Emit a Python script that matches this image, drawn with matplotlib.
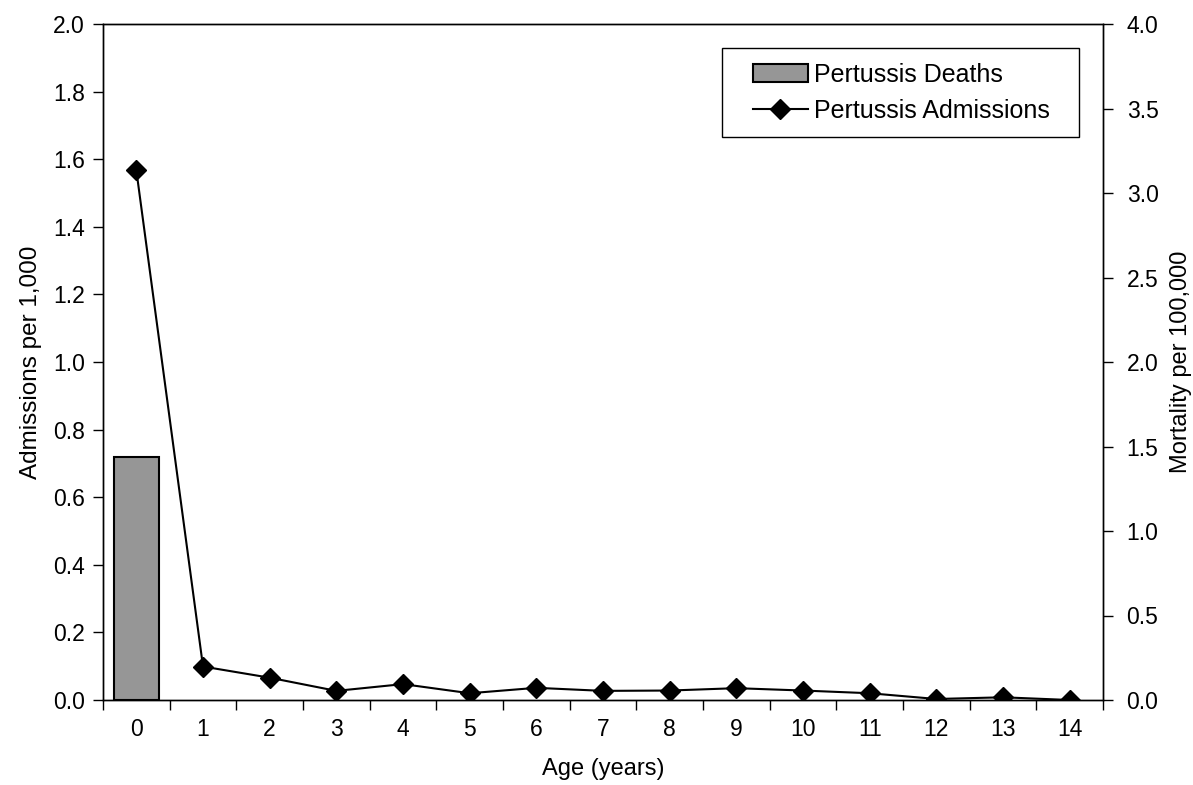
import matplotlib.pyplot as plt
from matplotlib.patches import Rectangle
import numpy as np

plt.rcParams['font.family'] = ['Liberation Sans', 'DejaVu Sans']

ages = list(range(15))
admissions = [1.567, 0.099, 0.066, 0.027, 0.047, 0.020, 0.036, 0.027,
              0.028, 0.035, 0.028, 0.020, 0.003, 0.008, 0.0]
deaths = [1.44, 0, 0, 0, 0, 0, 0, 0, 0, 0, 0, 0, 0, 0, 0]
left_ticks = [0.0, 0.2, 0.4, 0.6, 0.8, 1.0, 1.2, 1.4, 1.6, 1.8, 2.0]
right_ticks = [0.0, 0.5, 1.0, 1.5, 2.0, 2.5, 3.0, 3.5, 4.0]

fig = plt.figure(figsize=(11.93, 7.85), dpi=100)
ax = fig.add_axes([103 / 1193, 85 / 785, 1000 / 1193, 676 / 785])
ax2 = ax.twinx()

x = np.arange(len(ages))
ax2.bar(x[:1], deaths[:1], width=0.67, color='#969696', edgecolor='black',
        linewidth=1.5, label='Pertussis Deaths')
ln, = ax.plot(x, admissions, color='black', lw=1.5, marker='D', ms=10,
              label='Pertussis Admissions')

# line axis on top of the bars
ax.set_zorder(ax2.get_zorder() + 1)
ax.patch.set_visible(False)

ax.set_xlim(-0.5, 14.5)
ax.set_ylim(0, 2.0)
ax2.set_ylim(0, 4.0)
ax.set_yticks(left_ticks)
ax.set_yticklabels([f'{v:.1f}' for v in left_ticks])
ax2.set_yticks(right_ticks)
ax2.set_yticklabels([f'{v:.1f}' for v in right_ticks])

ax.set_xticks(x)
ax.set_xticklabels([str(a) for a in ages])
ax.set_xticks(np.arange(-0.5, 14.6, 1), minor=True)
ax.tick_params(axis='x', which='major', length=0, labelsize=16.5, pad=13)
ax.tick_params(axis='x', which='minor', length=7, width=1, direction='out')
ax.tick_params(axis='y', length=7, width=1, labelsize=16.5, pad=6)
ax2.tick_params(axis='y', length=7, width=1, labelsize=16.5, pad=10)

for a in (ax, ax2):
    for s in a.spines.values():
        s.set_linewidth(1)

ax.set_xlabel('Age (years)', fontsize=17, labelpad=12)
ax.set_ylabel('Admissions per 1,000', fontsize=17.5, labelpad=8)
ax2.set_ylabel('Mortality per 100,000', fontsize=17, labelpad=8)

# legend box (drawn separately to get wider side padding)
ax.add_patch(Rectangle((0.619, 0.8328), 0.357, 0.1317, transform=ax.transAxes,
                       facecolor='white', edgecolor='black', lw=1, zorder=4))
h2, l2 = ax2.get_legend_handles_labels()
leg = ax.legend(h2 + [ln], l2 + ['Pertussis Admissions'], loc='upper right',
                bbox_to_anchor=(0.947, 0.943), fontsize=18, frameon=False,
                handlelength=2.2, handletextpad=0.25, borderpad=0,
                labelspacing=0.5, borderaxespad=0)
leg.set_zorder(5)

fig.savefig('out.png', dpi=100)
